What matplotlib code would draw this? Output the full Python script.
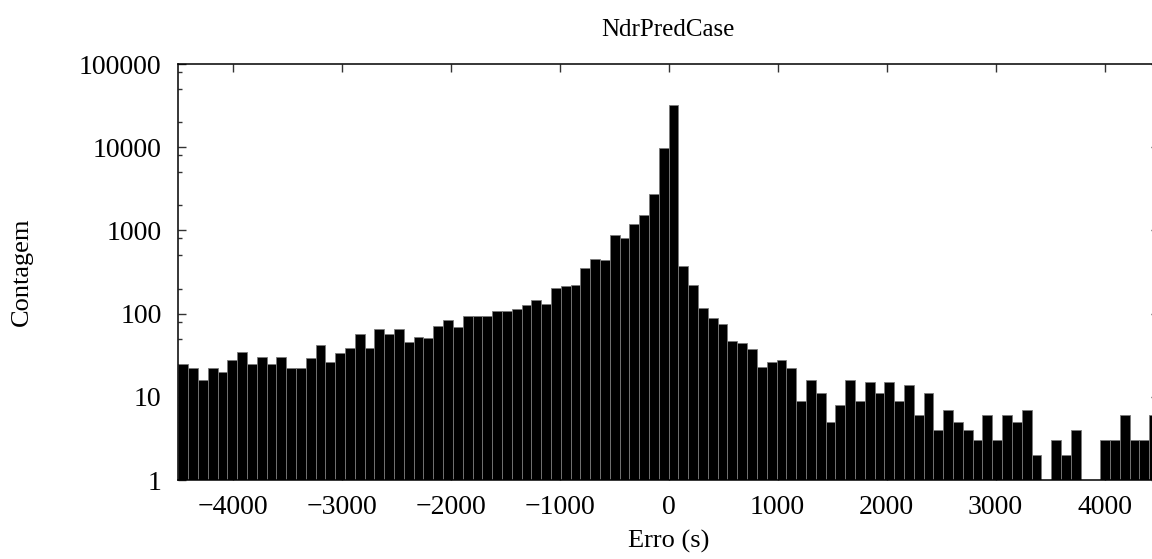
import matplotlib
matplotlib.use("Agg")
import matplotlib.pyplot as plt
import numpy as np

# histogram of prediction error, 100 bins of 90 s from -4500 s
counts = [25, 22, 16, 22, 20, 28, 35, 25, 30, 25, 30, 22, 22, 29, 42,
          26, 34, 39, 57, 39, 65, 57, 65, 45, 52, 51, 71, 83, 69,
          94, 94, 94, 107, 107, 114, 126, 146, 130, 203, 215, 221, 350, 449,
          441, 880, 818, 1194, 1531, 2740, 9860, 32140, 373, 221, 117, 88, 75, 47, 44,
          38, 23, 26, 28, 22, 9, 16, 11, 5, 8, 16, 9, 15, 11,
          15, 9, 14, 6, 11, 4, 7, 5, 4, 3, 6, 3, 6, 5,
          7, 2, 1, 3, 2, 4, 1, 1, 3, 3, 6, 3, 3, 6]
bin_start = -4500
bin_width = 90

xticks = [-4000, -3000, -2000, -1000, 0, 1000, 2000, 3000, 4000]
yticks = [1, 10, 100, 1000, 10000, 100000]
ytick_labels = ["1", "10", "100", "1000", "10000", "100000"]
yminor = [m * 10 ** k for k in range(5) for m in (2, 5, 8)]

plt.rcParams["font.family"] = ["Liberation Serif", "DejaVu Serif"]
plt.rcParams["font.size"] = 19

fig = plt.figure(figsize=(11.52, 5.59), dpi=100)
ax = fig.add_axes([178.3 / 1152, 79 / 559, 980.7 / 1152, 416 / 559])

edges = bin_start + bin_width * np.arange(len(counts))
ax.bar(edges, counts, width=bin_width, align="edge", log=True,
       color="black", edgecolor="#7a7a7a", linewidth=0.6)

ax.set_xlim(-4500, 4500)
ax.set_ylim(1, 100000)
ax.set_axisbelow(True)

ax.set_xticks(xticks)
ax.set_yticks(yticks, labels=ytick_labels)
ax.set_yticks(yminor, minor=True)
ax.xaxis.set_minor_locator(matplotlib.ticker.NullLocator())

ax.tick_params(which="both", direction="in", top=True, right=True, color="#333333",
               labelsize=20)
ax.tick_params(which="major", length=6, width=1)
ax.tick_params(which="minor", length=3, width=1)
ax.tick_params(axis="x", pad=11)
ax.tick_params(axis="y", pad=12)

for s in ax.spines.values():
    s.set_linewidth(1.1)

fig.text(668 / 1152, 1 - 30 / 559, "NdrPredCase", ha="center", va="center", fontsize=18)
fig.text(669 / 1152, 1 - 541 / 559, "Erro (s)", ha="center", va="center")
fig.text(22 / 1152, 1 - 272 / 559, "Contagem", ha="center", va="center", rotation=90)

fig.savefig("out.png", dpi=100)
